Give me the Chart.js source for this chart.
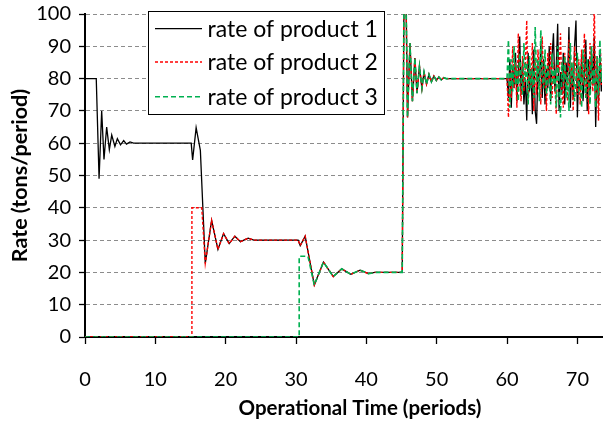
<!DOCTYPE html>
<html>
<head>
<meta charset="utf-8">
<script src="https://cdn.jsdelivr.net/npm/chart.js@4.4.1/dist/chart.umd.min.js"></script>
<style>
  html, body { margin: 0; padding: 0; background: #fff; }
  #wrap { width: 603px; height: 422px; position: relative; }
</style>
</head>
<body>
<div id="wrap"><canvas id="rateChart"></canvas></div>
<script>
// Product rates (time in periods, rate in tons/period)
const seriesNames = ['rate of product 1', 'rate of product 2', 'rate of product 3'];
const xTitle = 'Operational Time (periods)';
const yTitle = 'Rate (tons/period)';

const p1Times = [0, 1.6, 2.0, 2.37, 2.7, 3.08, 3.46, 3.8, 4.25, 4.6, 5.05, 5.5, 5.9, 6.4, 6.9, 15.1, 15.3, 15.8, 16.4];
const p1Rates = [80, 80, 49, 70, 55, 65, 58, 62.5, 59, 61.4, 59.5, 60.8, 59.7, 60.4, 60, 60, 54.8, 64.8, 57.8];

const p2Times = [0, 15.2, 15.2, 16.6];
const p2Rates = [0, 0, 40, 40];

const p3Times = [0, 30.45, 30.45, 31.7];
const p3Rates = [0, 0, 25, 25];

// settling to 30 (products 1 and 2)
const stage2Times = [17.1, 18.0, 18.9, 19.7, 20.5, 21.3, 22.1, 23.2, 24.0, 30.3, 30.6, 31.3];
const stage2Rates = [22.8, 36.1, 27.1, 32, 28.9, 31.2, 29.5, 30.6, 30, 30, 28.3, 31.2];

// settling to 20 (all products)
const stage3Times = [32.6, 33.9, 35.3, 36.5, 37.8, 39.1, 40.3, 41.2, 45.1];
const stage3Rates = [16.1, 23.2, 18.7, 21.1, 19.4, 20.7, 19.6, 20, 20];

// jump and settling to 80 (all products)
const stage4Times = [45.45, 45.85, 46.2, 46.55, 46.9, 47.2, 47.55, 47.9, 48.2, 48.55, 48.9, 49.25, 49.6, 49.95, 50.3, 50.65, 51.0, 51.35, 60.0];
const stage4Rates = [140, 68, 91, 73, 86.4, 75.5, 83.8, 77, 82, 78.3, 81.3, 79, 80.8, 79.4, 80.5, 79.6, 80.3, 80, 80];

// noisy section
const noiseTimes = [
  60.2, 60.4, 60.6, 60.8, 61.0, 61.2, 61.4, 61.6, 61.8, 62.0,
  62.2, 62.4, 62.6, 62.8, 63.0, 63.2, 63.4, 63.6, 63.8, 64.0,
  64.2, 64.4, 64.6, 64.8, 65.0, 65.2, 65.4, 65.6, 65.8, 66.0,
  66.2, 66.4, 66.6, 66.8, 67.0, 67.2, 67.4, 67.6, 67.8, 68.0,
  68.2, 68.4, 68.6, 68.8, 69.0, 69.2, 69.4, 69.6, 69.8, 70.0,
  70.2, 70.4, 70.6, 70.8, 71.0, 71.2, 71.4, 71.6, 71.8, 72.0,
  72.2, 72.4, 72.6, 72.8, 73.0, 73.2, 73.4, 73.6
];
const noise1 = [
  74, 86, 71, 84, 77, 88, 73, 82, 93, 75,
  85, 72, 80, 67, 88, 76, 83, 69, 89, 70,
  66, 84, 78, 91, 74, 86, 72, 83, 77, 90,
  73, 87, 94, 76, 84, 97, 70, 82, 75, 88,
  72, 85, 79, 96, 71, 84, 74, 90, 98, 68,
  83, 76, 87, 73, 81, 92, 70, 86, 75, 89,
  78, 93, 65, 84, 72, 88, 76, 82
];
const noise2 = [
  68, 82, 74, 90, 77, 85, 71, 94, 79, 73,
  87, 76, 84, 98, 72, 83, 78, 91, 70, 86,
  75, 89, 80, 72, 93, 77, 84, 70, 88, 79,
  91, 74, 85, 78, 69, 87, 82, 94, 76, 71,
  88, 80, 73, 92, 77, 85, 70, 90, 83, 75,
  86, 72, 89, 78, 94, 74, 84, 69, 91, 80,
  76, 104, 73, 87, 67, 85, 78, 90
];
const noise3 = [
  92, 71, 86, 76, 90, 78, 84, 73, 88, 80,
  75, 91, 79, 85, 72, 87, 77, 83, 74, 96,
  79, 86, 73, 95, 81, 77, 89, 75, 84, 80,
  72, 88, 78, 83, 71, 90, 76, 68, 85, 79,
  87, 74, 82, 70, 91, 78, 85, 73, 80, 88,
  76, 84, 71, 89, 79, 74, 86, 80, 72, 90,
  78, 83, 71, 87, 75, 92, 79, 84
];

const yTicks = [0, 10, 20, 30, 40, 50, 60, 70, 80, 90, 100];
const xTicks = [0, 10, 20, 30, 40, 50, 60, 70];

const FONT = 'Lato, "Open Sans", sans-serif';

function toPoints(times, rates) {
  return times.map((t, i) => ({ x: t, y: rates[i] }));
}

const series1 = toPoints(
  [...p1Times, ...stage2Times, ...stage3Times, ...stage4Times, ...noiseTimes],
  [...p1Rates, ...stage2Rates, ...stage3Rates, ...stage4Rates, ...noise1]);
const series2 = toPoints(
  [...p2Times, ...stage2Times, ...stage3Times, ...stage4Times, ...noiseTimes],
  [...p2Rates, ...stage2Rates, ...stage3Rates, ...stage4Rates, ...noise2]);
const series3 = toPoints(
  [...p3Times, ...stage3Times, ...stage4Times, ...noiseTimes],
  [...p3Rates, ...stage3Rates, ...stage4Rates, ...noise3]);

// fixed axis boxes so the plot area sits where the original has it
function fixBox(size) {
  return s => {
    if (s.isHorizontal()) s.height = size; else s.width = size;
    s.paddingTop = 0; s.paddingBottom = 0; s.paddingLeft = 0; s.paddingRight = 0;
  };
}

// legend box inside the plot + x title (sits right of centre in the original)
const boxLegend = {
  id: 'boxLegend',
  afterDraw(chart) {
    const ctx = chart.ctx;
    const box = { x: 148.5, y: 11.5, w: 236, h: 103 };
    ctx.save();
    ctx.fillStyle = '#fff';
    ctx.fillRect(box.x, box.y, box.w, box.h);
    ctx.strokeStyle = '#000';
    ctx.lineWidth = 1;
    ctx.strokeRect(box.x, box.y, box.w, box.h);
    const rows = [28.7, 62, 96.7];
    chart.data.datasets.forEach((ds, i) => {
      ctx.beginPath();
      ctx.strokeStyle = ds.borderColor;
      ctx.lineWidth = ds.borderWidth;
      ctx.setLineDash(ds.borderDash || []);
      ctx.moveTo(155, rows[i]);
      ctx.lineTo(202, rows[i]);
      ctx.stroke();
      ctx.setLineDash([]);
      ctx.fillStyle = '#000';
      ctx.font = '23px ' + FONT;
      ctx.textBaseline = 'middle';
      ctx.textAlign = 'left';
      ctx.fillText(ds.label, 207.5, rows[i] + 1);
    });
    ctx.font = 'bold 20.5px ' + FONT;
    ctx.textAlign = 'center';
    ctx.textBaseline = 'middle';
    ctx.fillText(xTitle, 360, 408);
    ctx.restore();
  }
};

new Chart(document.getElementById('rateChart'), {
  type: 'line',
  data: {
    datasets: [
      { label: seriesNames[0], data: series1, borderColor: '#000000', borderWidth: 1.3, pointRadius: 0, tension: 0, order: 3 },
      { label: seriesNames[1], data: series2, borderColor: '#ff0000', borderWidth: 1.4, borderDash: [3, 2], pointRadius: 0, tension: 0, order: 2 },
      { label: seriesNames[2], data: series3, borderColor: '#00b050', borderWidth: 1.6, borderDash: [5, 3], pointRadius: 0, tension: 0, order: 1 }
    ]
  },
  options: {
    responsive: true, maintainAspectRatio: false, animation: false,
    layout: { padding: { top: 14, right: 1, left: 0, bottom: 0 } },
    scales: {
      x: {
        type: 'linear', min: 0, max: 73.5,
        afterFit: fixBox(85),
        afterBuildTicks: s => { s.ticks = xTicks.map(v => ({ value: v })); },
        ticks: { color: '#000', font: { family: FONT, size: 20 }, padding: 24, maxRotation: 0, includeBounds: false },
        grid: { drawOnChartArea: false, drawTicks: true, tickLength: 7, tickColor: '#000', tickWidth: 1.3 },
        border: { display: true, color: '#000', width: 2 },
        title: { display: false, text: xTitle }
      },
      y: {
        type: 'linear', min: 0, max: 100,
        afterFit: fixBox(85),
        afterBuildTicks: s => { s.ticks = yTicks.map(v => ({ value: v })); },
        ticks: { color: '#000', font: { family: FONT, size: 20 }, padding: 8 },
        grid: { color: '#8c8c8c', lineWidth: 1, drawTicks: true, tickLength: 6, tickColor: '#000', tickWidth: 1.3 },
        border: { display: true, color: '#000', width: 2, dash: [4, 3] },
        title: { display: true, text: yTitle, color: '#000', font: { family: FONT, size: 21.5, weight: 'bold' }, padding: { top: 7, bottom: 0 } }
      }
    },
    plugins: { legend: { display: false }, tooltip: { enabled: false } }
  },
  plugins: [boxLegend]
});
</script>
</body>
</html>
